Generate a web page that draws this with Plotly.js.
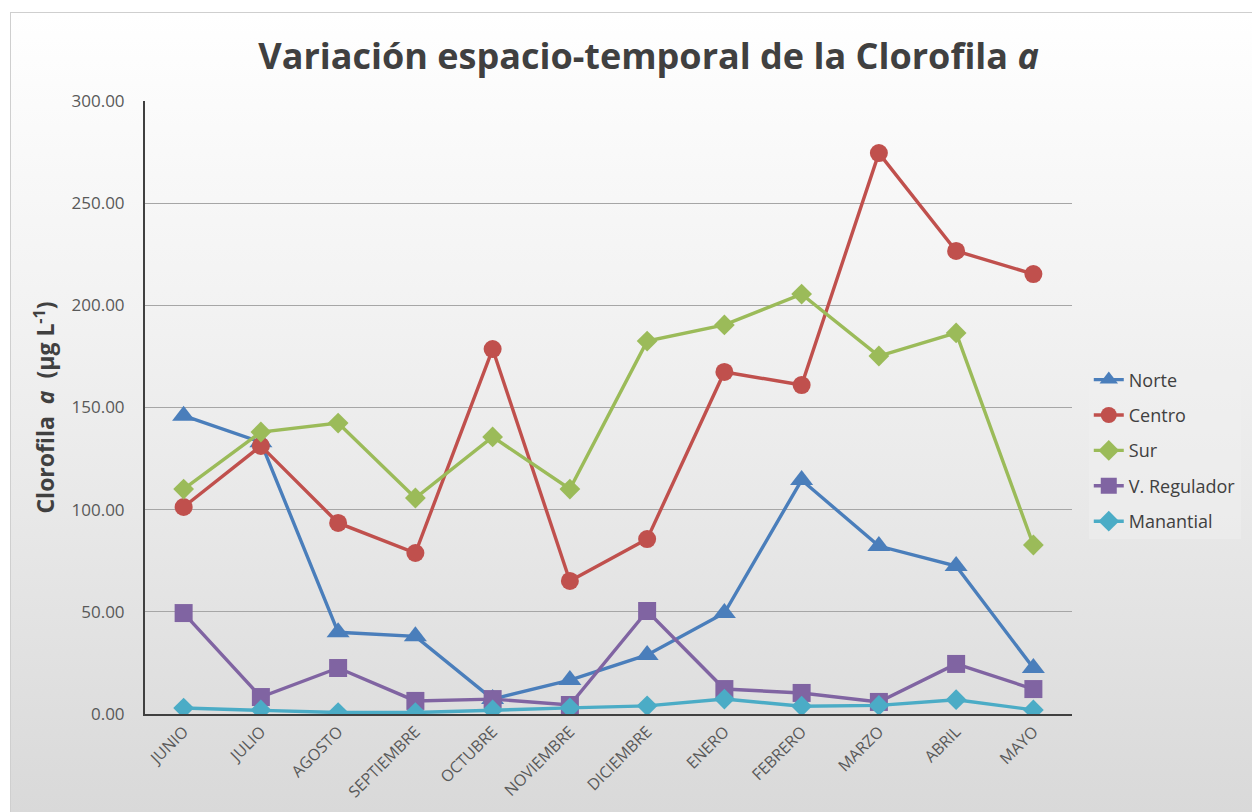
<!DOCTYPE html>
<html>
<head>
<meta charset="utf-8">
<script src="https://cdn.plot.ly/plotly-3.0.1.min.js"></script>
<style>
  html, body { margin: 0; padding: 0; background: #ffffff; width: 1252px; height: 812px; overflow: hidden; }
  #frame { position: absolute; left: 10px; top: 12px; width: 1300px; height: 900px;
           border: 1px solid #cfcfcf;
           background: linear-gradient(to bottom, #ffffff 0px, #f2f2f2 300px, #d9d9d9 800px); }
  #chart { position: absolute; left: 0; top: 0; width: 1252px; height: 812px; }
</style>
</head>
<body>
<div id="frame"></div>
<div id="chart"></div>
<script>
const months = ["JUNIO","JULIO","AGOSTO","SEPTIEMBRE","OCTUBRE","NOVIEMBRE","DICIEMBRE","ENERO","FEBRERO","MARZO","ABRIL","MAYO"];
const norte = [146, 133, 40, 38, 7.3, 16.6, 28.9, 49.4, 114.5, 82.2, 72.4, 22.5];
const centro = [101.3, 131.2, 93.5, 78.8, 178.6, 65.1, 85.6, 167.4, 161.0, 274.5, 226.6, 215.3];
const sur = [110.1, 138.0, 142.4, 105.7, 135.6, 110.1, 182.5, 190.4, 205.5, 175.2, 186.5, 82.7];
const vRegulador = [49.4, 8.3, 22.5, 6.4, 7.3, 4.4, 50.4, 12.2, 10.3, 5.9, 24.5, 12.2];
const manantial = [2.9, 2.0, 0.7, 0.7, 2.0, 3.0, 4.0, 7.3, 3.8, 4.2, 7.0, 2.0];
const seriesNames = ["Norte","Centro","Sur","V. Regulador","Manantial"];
const yTicks = [0, 50, 100, 150, 200, 250, 300];

const colors = ["#4a7ebb", "#c0504d", "#9bbb59", "#8064a2", "#4bacc6"];
const symbols = ["triangle-up", "circle", "diamond", "square", "diamond"];
const sizes = [20, 18, 16, 18, 16];
const allData = [norte, centro, sur, vRegulador, manantial];

const traces = allData.map((vals, i) => ({
  type: "scatter",
  mode: "lines+markers",
  x: months,
  y: vals,
  name: seriesNames[i],
  legendgroup: "g" + i,
  line: { color: colors[i], width: 3.4 },
  marker: { color: colors[i], symbol: symbols[i], size: sizes[i] },
  hoverinfo: "x+y+name"
}));

const layout = {
  width: 1252,
  height: 812,
  paper_bgcolor: "rgba(0,0,0,0)",
  plot_bgcolor: "rgba(0,0,0,0)",
  margin: { l: 145, r: 179, t: 101, b: 98 },
  font: { family: "Open Sans, sans-serif", color: "#595959" },
  title: {
    text: "<b>Variación espacio-temporal de la Clorofila <i>a</i></b>",
    font: { family: "Open Sans, sans-serif", size: 36, color: "#404040" },
    x: 0.518, xanchor: "center", xref: "container",
    y: 0.93, yanchor: "middle", yref: "container"
  },
  xaxis: {
    type: "category",
    tickangle: -45,
    tickfont: { size: 16, color: "#595959" },
    showline: true, linecolor: "#404040", linewidth: 2,
    showgrid: false, ticks: "", zeroline: false,
    range: [-0.5, 11.5]
  },
  yaxis: {
    range: [0, 300],
    tickvals: yTicks,
    tickformat: ".2f",
    tickfont: { size: 17, color: "#595959" },
    showline: true, linecolor: "#404040", linewidth: 2,
    showgrid: true, gridcolor: "#a6a6a6", gridwidth: 1,
    zeroline: false, ticks: "",
    ticklabelstandoff: 15,
    title: {
      text: "<b>Clorofila  <i>a</i>  (µg L<sup>-1</sup>)</b>",
      font: { size: 23, color: "#404040" },
      standoff: 10
    }
  },
  showlegend: true,
  legend: {
    x: 1.017, xanchor: "left",
    y: 0.43, yanchor: "middle",
    font: { size: 18, color: "#404040" },
    bgcolor: "rgba(240,240,240,0.5)",
    tracegroupgap: 9,
    itemwidth: 30
  }
};

Plotly.newPlot("chart", traces, layout, { displayModeBar: false, staticPlot: true });
</script>
</body>
</html>
